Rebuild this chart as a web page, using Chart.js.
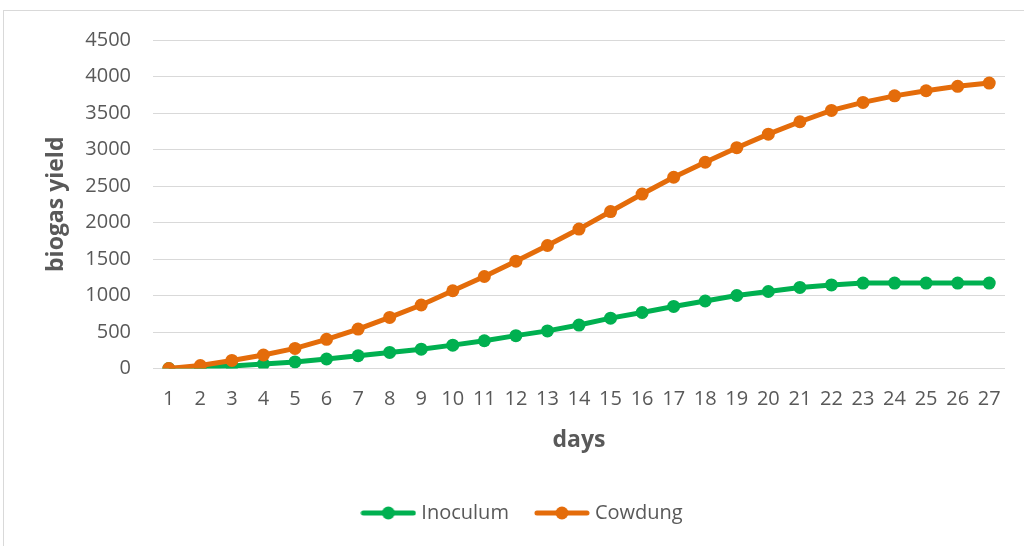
<!DOCTYPE html>
<html>
<head>
<meta charset="utf-8">
<script src="https://cdn.jsdelivr.net/npm/chart.js@4"></script>
<style>
  html, body { margin: 0; padding: 0; background: #ffffff; overflow: hidden; }
  #wrap { position: relative; width: 1024px; height: 546px; }
  #frame { position: absolute; left: 3px; top: 10px; width: 1200px; height: 700px; border: 1px solid #d9d9d9; box-sizing: border-box; pointer-events: none; }
  canvas { position: absolute; left: 0; top: 0; }
</style>
</head>
<body>
<div id="wrap">
  <div id="frame"></div>
  <canvas id="c" width="1024" height="546"></canvas>
</div>
<script>
// Day numbers along the horizontal axis
const days = ['1','2','3','4','5','6','7','8','9','10','11','12','13','14','15','16','17','18','19','20','21','22','23','24','25','26','27'];

// Cumulative biogas yield per day
const inoculum = [0, 15, 35, 60, 90, 130, 175, 220, 265, 320, 380, 450, 515, 595, 690, 767, 850, 925, 1000, 1055, 1110, 1145, 1170, 1170, 1170, 1170, 1170];
const cowdung  = [0, 40, 110, 185, 275, 400, 540, 700, 870, 1065, 1260, 1470, 1685, 1910, 2150, 2390, 2620, 2825, 3025, 3210, 3380, 3535, 3645, 3735, 3805, 3865, 3910];

// Y axis range
const yMin = 0;
const yMax = 4500;
const yStep = 500;

const GREEN = '#00b050';
const ORANGE = '#e46c0a';
const TEXT = '#595959';
const FONT = "'Open Sans', sans-serif";

// Legend marker: a short line with a dot in the middle
function lineMarker(color) {
  const cv = document.createElement('canvas');
  cv.width = 56; cv.height = 16;
  const g = cv.getContext('2d');
  g.strokeStyle = color;
  g.lineWidth = 5;
  g.lineCap = 'round';
  g.beginPath(); g.moveTo(3, 8); g.lineTo(53, 8); g.stroke();
  g.fillStyle = color;
  g.beginPath(); g.arc(28, 8, 6.5, 0, Math.PI * 2); g.fill();
  return cv;
}

const series = [
  { label: 'Inoculum', data: inoculum, color: GREEN, order: 1 },
  { label: 'Cowdung', data: cowdung, color: ORANGE, order: 0 }
];

new Chart(document.getElementById('c'), {
  type: 'line',
  data: {
    labels: days,
    datasets: series.map(s => ({
      label: s.label,
      data: s.data,
      order: s.order,
      borderColor: s.color,
      backgroundColor: s.color,
      borderWidth: 5,
      tension: 0,
      pointRadius: 6.5,
      pointHoverRadius: 6.5,
      pointBorderWidth: 0,
      pointBackgroundColor: s.color,
      fill: false
    }))
  },
  options: {
    responsive: false,
    animation: false,
    events: [],
    layout: { padding: { left: 43, right: 19, top: 40, bottom: 13 } },
    plugins: {
      tooltip: { enabled: false },
      legend: {
        position: 'bottom',
        labels: {
          usePointStyle: true,
          pointStyleWidth: 46,
          padding: 30,
          color: TEXT,
          font: { family: FONT, size: 20 },
          generateLabels: (chart) => series.map((s, i) => ({
            text: s.label,
            datasetIndex: i,
            fontColor: TEXT,
            pointStyle: lineMarker(s.color),
            fillStyle: s.color,
            strokeStyle: s.color,
            lineWidth: 0,
            hidden: false
          }))
        }
      }
    },
    scales: {
      x: {
        offset: true,
        grid: { display: false, drawTicks: false },
        border: { display: false },
        ticks: { color: TEXT, font: { family: FONT, size: 20 }, padding: 19, maxRotation: 0, autoSkip: false },
        title: { display: true, text: 'days', color: TEXT, font: { family: FONT, size: 23, weight: 'bold' }, padding: { top: 0, bottom: 19 } },
        afterFit: (scale) => { scale.height = 104.5; }
      },
      y: {
        min: yMin,
        max: yMax,
        grid: { color: '#d9d9d9', lineWidth: 1, drawTicks: false },
        border: { display: false },
        ticks: { stepSize: yStep, color: TEXT, font: { family: FONT, size: 20 }, padding: 22, callback: (v) => String(v) },
        title: { display: true, text: 'biogas yield', color: TEXT, font: { family: FONT, size: 23, weight: 'bold' }, padding: { top: 0, bottom: 0 } },
        afterFit: (scale) => { scale.width = 110; }
      }
    }
  }
});
</script>
</body>
</html>
